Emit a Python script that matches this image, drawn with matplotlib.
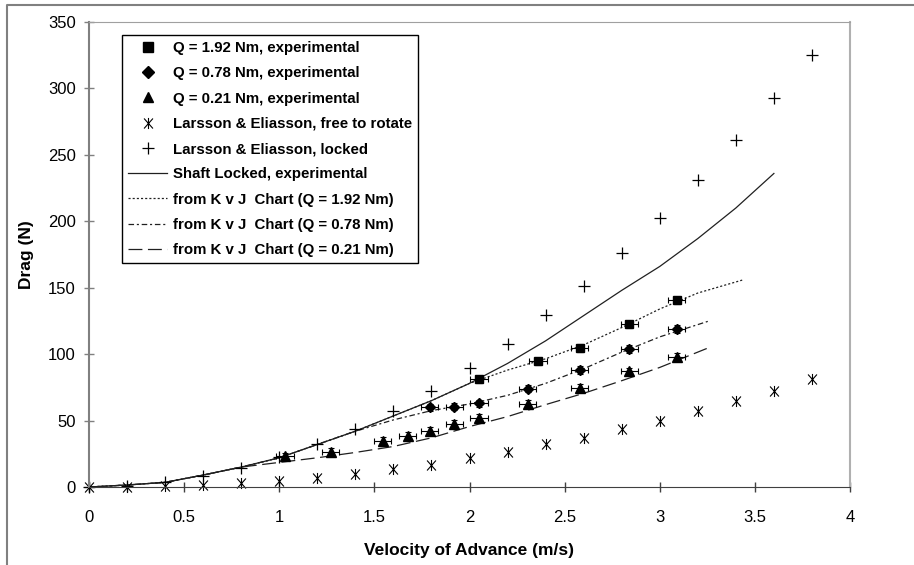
import numpy as np
import matplotlib.pyplot as plt
from matplotlib.lines import Line2D
from matplotlib.path import Path

plt.rcParams['font.family'] = ['Liberation Sans', 'DejaVu Sans']
plt.rcParams['lines.scale_dashes'] = False

# Larsson & Eliasson reference data
v_le = [0, 0.2, 0.4, 0.6, 0.8, 1.0, 1.2, 1.4, 1.6, 1.8, 2.0, 2.2, 2.4, 2.6, 2.8, 3.0, 3.2, 3.4, 3.6, 3.8]
le_locked = [0, 0.9, 3.6, 8, 14.5, 22.5, 32.5, 44, 57, 72, 89.5, 108, 129.5, 151.5, 176, 202.5, 231, 261, 292.5, 325.5]
le_free = [0, 0.3, 0.8, 1.5, 3.2, 4.6, 6.7, 10, 13.8, 16.8, 22, 26, 32, 37, 43.5, 50, 57, 64.5, 72.5, 81]

# experimental points
v_q192 = [2.05, 2.36, 2.58, 2.84, 3.09]
d_q192 = [81, 94.5, 104.5, 122.5, 140.5]
v_q078 = [1.79, 1.92, 2.05, 2.305, 2.58, 2.84, 3.09]
d_q078 = [60, 60.5, 63, 74, 88, 104, 119]
v_q021 = [1.03, 1.27, 1.545, 1.675, 1.79, 1.92, 2.05, 2.305, 2.58, 2.84, 3.09]
d_q021 = [23, 26.5, 34.7, 38.5, 42.5, 47.3, 52.3, 62.8, 74.4, 87, 98]
v_err = 0.045
d_err = 2.8

# curves
v_shaft = [0, 0.2, 0.4, 0.6, 0.8, 1.0, 1.2, 1.4, 1.6, 1.8, 2.0, 2.2, 2.4, 2.6, 2.8, 3.0, 3.2, 3.4, 3.6]
d_shaft = [0, 1.5, 3.5, 9, 15, 22, 32, 42, 53.5, 65, 78, 93, 110, 129, 148, 166, 187, 210, 236]
v_kvj192 = [0, 0.2, 0.4, 0.6, 0.8, 1.0, 1.2, 1.4, 1.6, 1.8, 2.0, 2.2, 2.4, 2.6, 2.8, 3.0, 3.2, 3.44]
d_kvj192 = [0, 1.5, 3.5, 9, 15, 22, 32, 42, 53.5, 65, 78, 88, 96.5, 107, 120, 134, 146, 156]
v_kvj078 = [0, 0.2, 0.4, 0.6, 0.8, 1.0, 1.2, 1.4, 1.6, 1.8, 2.0, 2.2, 2.4, 2.6, 2.8, 3.0, 3.26]
d_kvj078 = [0, 1.5, 3.5, 9, 15, 22, 32, 42, 50.5, 57.5, 62.5, 69, 78, 89, 101.5, 113, 125]
v_kvj021 = [0, 0.2, 0.4, 0.6, 0.8, 1.0, 1.2, 1.4, 1.6, 1.8, 2.0, 2.2, 2.4, 2.6, 2.8, 3.0, 3.26]
d_kvj021 = [0, 1.5, 3.5, 9, 15, 18.5, 22, 26, 30.5, 37, 45.5, 53, 62, 70.5, 80, 90, 105]

x_ticks = [0, 0.5, 1, 1.5, 2, 2.5, 3, 3.5, 4]
x_ticklabels = ['0', '0.5', '1', '1.5', '2', '2.5', '3', '3.5', '4']
y_ticks = [0, 50, 100, 150, 200, 250, 300, 350]

labels = ['Q = 1.92 Nm, experimental', 'Q = 0.78 Nm, experimental',
          'Q = 0.21 Nm, experimental', 'Larsson & Eliasson, free to rotate',
          'Larsson & Eliasson, locked', 'Shaft Locked, experimental',
          'from K v J  Chart (Q = 1.92 Nm)', 'from K v J  Chart (Q = 0.78 Nm)',
          'from K v J  Chart (Q = 0.21 Nm)']

# asterisk marker: x with a vertical bar
star = Path([(-0.8, -0.9), (0.8, 0.9), (-0.8, 0.9), (0.8, -0.9), (0, -1), (0, 1)],
            [Path.MOVETO, Path.LINETO, Path.MOVETO, Path.LINETO, Path.MOVETO, Path.LINETO])

dotted = (0, (1.5, 1.5))
dashdot = (0, (4, 2, 1.5, 2))
longdash = (0, (10, 4))

fig, ax = plt.subplots(figsize=(9.14, 5.65), dpi=100)
fig.subplots_adjust(left=89/914, right=850/914, bottom=78/565, top=1-22/565)

ax.plot(v_kvj021, d_kvj021, color='#202020', lw=0.9, ls=longdash)
ax.plot(v_kvj078, d_kvj078, color='#202020', lw=0.9, ls=dashdot)
ax.plot(v_kvj192, d_kvj192, color='#202020', lw=0.9, ls=dotted)
ax.plot(v_shaft, d_shaft, color='#202020', lw=0.9)

ax.plot(v_le, le_free, ls='none', marker=star, ms=8, mec='black', mew=0.8, clip_on=False)
ax.plot(v_le, le_locked, ls='none', marker='+', ms=9, mec='black', mew=0.9, clip_on=False)

for v, d, m, ms in [(v_q192, d_q192, 's', 6), (v_q078, d_q078, 'D', 5.5), (v_q021, d_q021, '^', 7)]:
    ax.errorbar(v, d, xerr=v_err, yerr=d_err, fmt=m, ms=ms, color='black', ecolor='black',
                elinewidth=0.8, capsize=2.5, capthick=0.8)

ax.set_xlim(0, 4)
ax.set_ylim(0, 350)
ax.set_xticks(x_ticks)
ax.set_xticklabels(x_ticklabels)
ax.set_yticks(y_ticks)
ax.tick_params(direction='inout', length=7, width=1, labelsize=12)
ax.tick_params(axis='x', pad=13, color='#404040')
ax.tick_params(axis='y', pad=6, color='#808080')

ax.spines['left'].set_color('#808080')
ax.spines['left'].set_linewidth(1.5)
ax.spines['bottom'].set_color('#404040')
ax.spines['top'].set_color('#a0a0a0')
ax.spines['right'].set_color('#b0b0b0')
ax.spines['right'].set_linewidth(1.5)

ax.set_xlabel('Velocity of Advance (m/s)', fontsize=12.5, fontweight='bold', labelpad=13)
ax.set_ylabel('Drag (N)', fontsize=12.5, fontweight='bold', labelpad=10)

handles = [
    Line2D([], [], ls='none', marker='s', ms=6.5, color='black'),
    Line2D([], [], ls='none', marker='D', ms=6, color='black'),
    Line2D([], [], ls='none', marker='^', ms=7.5, color='black'),
    Line2D([], [], ls='none', marker=star, ms=8, mec='black', mew=0.8),
    Line2D([], [], ls='none', marker='+', ms=9, mec='black', mew=0.9),
    Line2D([], [], color='#202020', lw=0.9),
    Line2D([], [], color='#202020', lw=0.9, ls=dotted),
    Line2D([], [], color='#202020', lw=0.9, ls=dashdot),
    Line2D([], [], color='#202020', lw=0.9, ls=longdash),
]
leg = ax.legend(handles, labels, loc='upper left', bbox_to_anchor=(0.0434, 0.972),
                borderaxespad=0, fancybox=False, framealpha=1, edgecolor='black',
                prop={'weight': 'bold', 'size': 10.8}, handlelength=2.6,
                handletextpad=0.4, labelspacing=0.75, borderpad=0.4)
leg.get_frame().set_linewidth(1.0)

# chart area border
fig.add_artist(Line2D([7/914, 7/914, 1], [0, 1-5/565, 1-5/565], transform=fig.transFigure,
                      color='#808080', lw=1.5))

plt.savefig('out.png', dpi=100)
plt.close()
